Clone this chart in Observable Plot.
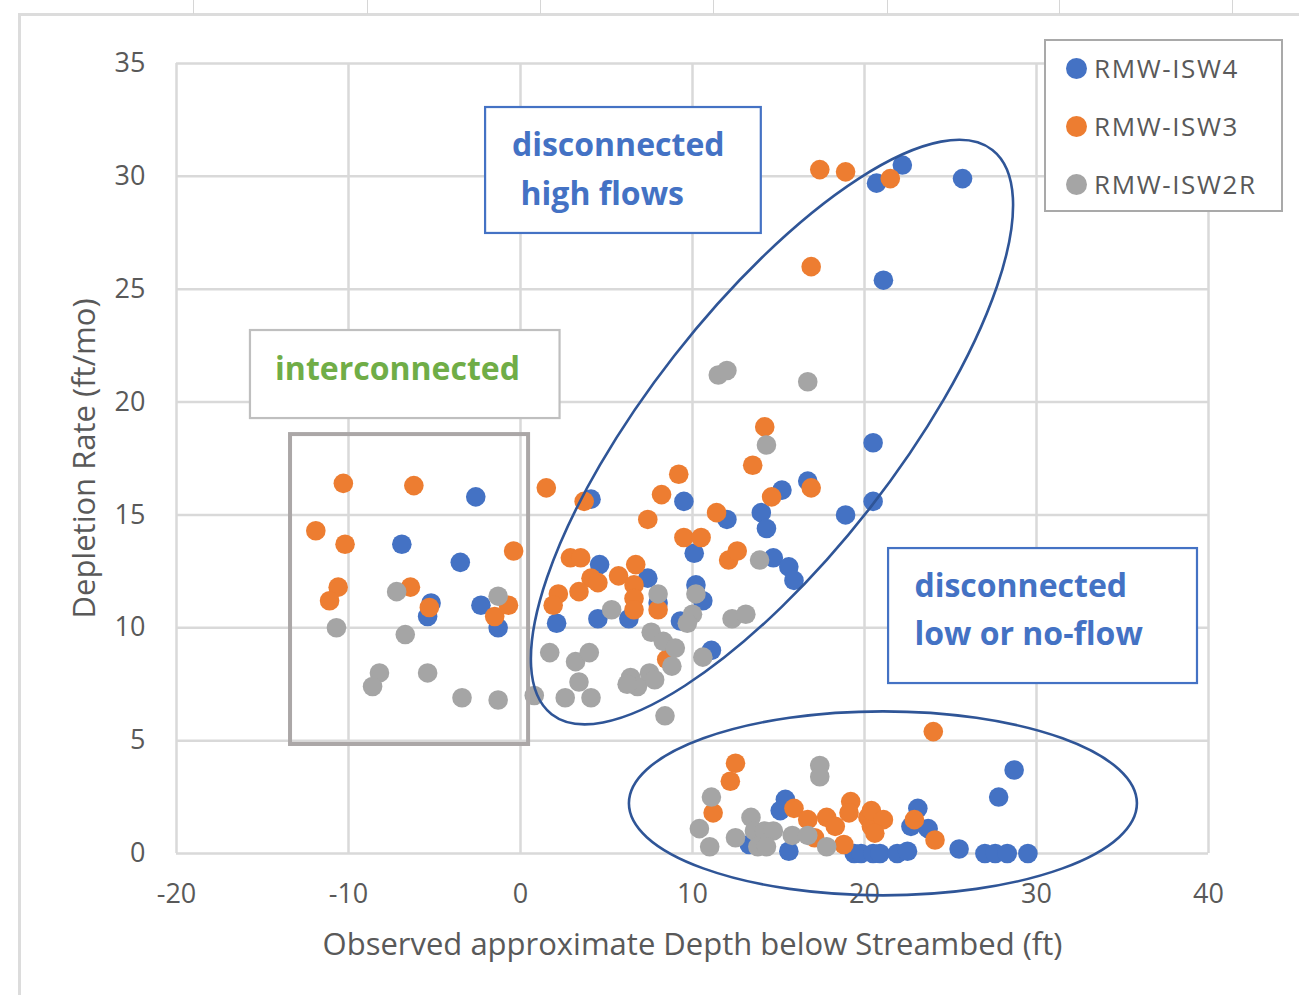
<!DOCTYPE html>
<html>
<head>
<meta charset="utf-8">
<script src="https://cdn.jsdelivr.net/npm/d3@7"></script>
<script src="https://cdn.jsdelivr.net/npm/@observablehq/plot@0.6"></script>
<style>
  html, body { margin: 0; padding: 0; background: #fff; }
  #wrap { position: relative; width: 1299px; height: 995px; overflow: hidden; font-family: "Open Sans", sans-serif; }
  #frameTop { position: absolute; left: 20px; top: 13px; width: 1279px; height: 0; border-top: 3px solid #dcdcdc; }
  #frameLeft { position: absolute; left: 18px; top: 13px; width: 0; height: 982px; border-left: 3px solid #dcdcdc; }
  .tick { position: absolute; top: 0; width: 1px; height: 14px; background: #d6d6d6; }
  #legend { position: absolute; left: 1044px; top: 39px; width: 235px; height: 169px; border: 2.5px solid #a9a9a9; background: #fff; }
  .li { position: absolute; left: 20px; height: 30px; display: flex; align-items: center; font-size: 26px; color: #595959; letter-spacing: 1.6px; }
  .sw { width: 21px; height: 21px; border-radius: 50%; margin-right: 7px; }
</style>
</head>
<body>
<div id="wrap"></div>
<script>
// ---- data ----
const seriesNames = ["RMW-ISW4", "RMW-ISW3", "RMW-ISW2R"];
const seriesColors = ["#4472C4", "#ED7D31", "#A5A5A5"];

const isw4 = [
  [-2.6,15.8],[-6.9,13.7],[-3.5,12.9],[-5.2,11.1],[-5.4,10.5],[-2.3,11.0],[-1.3,10.0],
  [4.1,15.7],[9.5,15.6],[16.7,16.5],[15.2,16.1],[12.0,14.8],[14.0,15.1],[14.3,14.4],[10.1,13.3],
  [14.7,13.1],[15.6,12.7],[15.9,12.1],[4.6,12.8],[2.1,10.2],[4.5,10.4],[7.4,12.2],[6.3,10.4],
  [8.0,11.1],[10.2,11.9],[10.6,11.2],[9.3,10.3],[11.1,9.0],
  [20.5,18.2],[20.5,15.6],[18.9,15.0],
  [20.7,29.7],[22.2,30.5],[25.7,29.9],[21.1,25.4],
  [13.3,0.4],[15.4,2.4],[15.1,1.9],[15.6,0.1],[19.4,0.0],[19.8,0.0],[20.5,0.0],[20.9,0.0],
  [21.9,0.0],[22.5,0.1],[28.7,3.7],[27.8,2.5],[23.1,2.0],[22.7,1.2],[23.7,1.1],[25.5,0.2],
  [27.0,0.0],[27.6,0.0],[28.3,0.0],[29.5,0.0]
];
const isw3 = [
  [-10.3,16.4],[-6.2,16.3],[-11.9,14.3],[-10.2,13.7],[-10.6,11.8],[-11.1,11.2],[-6.4,11.8],
  [-5.3,10.9],[-0.4,13.4],[-1.5,10.5],[-0.7,11.0],
  [1.5,16.2],[3.7,15.6],[9.2,16.8],[8.2,15.9],[7.4,14.8],[14.2,18.9],[13.5,17.2],[16.9,16.2],
  [14.6,15.8],[11.4,15.1],[9.5,14.0],[10.5,14.0],[12.1,13.0],[12.6,13.4],[2.9,13.1],[3.5,13.1],
  [4.1,12.2],[4.5,12.0],[3.4,11.6],[2.2,11.5],[1.9,11.0],[5.7,12.3],[6.7,12.8],[6.6,11.9],
  [6.6,11.3],[6.6,10.8],[8.0,10.8],[8.5,8.6],
  [17.4,30.3],[18.9,30.2],[21.5,29.9],[16.9,26.0],
  [12.5,4.0],[12.2,3.2],[11.2,1.8],[15.9,2.0],[16.7,1.5],[17.1,0.7],[17.8,1.6],[18.3,1.2],
  [18.8,0.4],[19.2,2.3],[19.1,1.8],[20.2,1.6],[20.4,1.2],[20.4,1.9],[21.1,1.5],[20.6,0.9],
  [22.9,1.5],[24.1,0.6],[24.0,5.4]
];
const isw2r = [
  [-7.2,11.6],[-10.7,10.0],[-6.7,9.7],[-8.2,8.0],[-8.6,7.4],[-5.4,8.0],[-3.4,6.9],[-1.3,6.8],
  [-1.3,11.4],[0.8,7.0],
  [14.3,18.1],[13.9,13.0],[5.3,10.8],[8.0,11.5],[10.2,11.5],[10.0,10.6],[9.7,10.2],[12.3,10.4],
  [13.1,10.6],[1.7,8.9],[3.2,8.5],[4.0,8.9],[3.4,7.6],[4.1,6.9],[2.6,6.9],[6.4,7.8],[6.8,7.4],
  [7.5,8.0],[7.8,7.7],[6.2,7.5],[7.6,9.8],[8.3,9.4],[9.0,9.1],[8.8,8.3],[10.6,8.7],[8.4,6.1],
  [16.7,20.9],[11.5,21.2],[12.0,21.4],
  [11.1,2.5],[10.4,1.1],[11.0,0.3],[12.5,0.7],[13.4,1.6],[13.6,1.0],[14.2,1.0],[14.7,1.0],
  [13.8,0.3],[14.3,0.3],[15.8,0.8],[16.7,0.8],[17.4,3.9],[17.4,3.4],[17.8,0.3]
];

const xTicks = [-20, -10, 0, 10, 20, 30, 40];
const yTicks = [0, 5, 10, 15, 20, 25, 30, 35];
const xLabel = "Observed approximate Depth below Streambed (ft)";
const yLabel = "Depletion Rate (ft/mo)";

// annotation regions (data coordinates)
const grayRegion = [{x1: -13.37, x2: 0.47, y1: 4.83, y2: 18.56}];
const textBoxes = [
  {x1: -15.7, x2: 2.3, y1: 19.27, y2: 23.17, stroke: "#BFBFBF"},
  {x1: -2.03, x2: 14.0, y1: 27.47, y2: 33.05, stroke: "#4472C4"},
  {x1: 21.4, x2: 39.36, y1: 7.53, y2: 13.51, stroke: "#4472C4"}
];
const centeredLabels = [
  {x: -7.15, y: 21.45, text: "interconnected", color: "#70AD47"}
];
const leftLabels = [
  {x: -0.5, y: 31.35, text: "disconnected", color: "#4472C4"},
  {x: 0.0, y: 29.2, text: "high flows", color: "#4472C4"},
  {x: 22.9, y: 11.8, text: "disconnected", color: "#4472C4"},
  {x: 22.9, y: 9.7, text: "low or no-flow", color: "#4472C4"}
];
// ellipses: centre in data coords, radii (px) and rotation (deg)
const ellipses = [
  {cx: 14.65, cy: 18.65, rx: 358, ry: 124, angle: -52},
  {cx: 21.1, cy: 2.2, rx: 254, ry: 92, angle: 0}
];

// ---- build table ----
const points = [];
[isw4, isw3, isw2r].forEach((arr, si) => arr.forEach(([x, y]) => points.push({x, y, s: seriesNames[si]})));

const plot = Plot.plot({
  width: 1299,
  height: 995,
  marginLeft: 176,
  marginRight: 91,
  marginTop: 63,
  marginBottom: 142,
  style: {fontFamily: "Open Sans, sans-serif", color: "#595959", background: "transparent"},
  x: {domain: [-20, 40], ticks: xTicks},
  y: {domain: [0, 35], ticks: yTicks},
  color: {domain: seriesNames, range: seriesColors},
  marks: [
    Plot.gridX(xTicks, {stroke: "#d9d9d9", strokeOpacity: 1, strokeWidth: 2.5}),
    Plot.gridY(yTicks, {stroke: "#d9d9d9", strokeOpacity: 1, strokeWidth: 2.5}),
    Plot.axisX(xTicks, {tickSize: 0, tickPadding: 30, fontSize: 27, label: null, fill: "#595959", tickFormat: d => String(d)}),
    Plot.axisY(yTicks, {tickSize: 0, tickPadding: 31, fontSize: 27, label: null, fill: "#595959", tickFormat: d => String(d)}),
    Plot.text([xLabel], {frameAnchor: "bottom", dy: 101, fontSize: 31, fill: "#595959", text: d => d}),
    Plot.text([yLabel], {frameAnchor: "left", dx: -91, rotate: -90, textAnchor: "middle", fontSize: 31, fill: "#595959", text: d => d}),
    Plot.dot(points, {x: "x", y: "y", fill: "s", r: 9.8, stroke: "none"}),
    Plot.rect(grayRegion, {x1: "x1", x2: "x2", y1: "y1", y2: "y2", fill: "none", stroke: "#ABA7A7", strokeWidth: 4}),
    Plot.rect(textBoxes, {x1: "x1", x2: "x2", y1: "y1", y2: "y2", fill: "white", stroke: "stroke", strokeWidth: 2.2}),
    Plot.text(centeredLabels, {x: "x", y: "y", text: "text", fill: "color", textAnchor: "middle", fontSize: 32, fontWeight: "bold"}),
    Plot.text(leftLabels, {x: "x", y: "y", text: "text", fill: "color", textAnchor: "start", fontSize: 32, fontWeight: "bold"})
  ]
});

// ellipses drawn on top using the plot's own scales
const sx = plot.scale("x"), sy = plot.scale("y");
const svg = d3.select(plot);
ellipses.forEach(e => {
  const px = sx.apply(e.cx), py = sy.apply(e.cy);
  svg.append("ellipse")
    .attr("cx", px).attr("cy", py).attr("rx", e.rx).attr("ry", e.ry)
    .attr("transform", `rotate(${e.angle} ${px} ${py})`)
    .attr("fill", "none").attr("stroke", "#2F5597").attr("stroke-width", 2.6);
});

const wrap = document.getElementById("wrap");
plot.style.position = "absolute";
plot.style.left = "0px";
plot.style.top = "0px";
wrap.appendChild(plot);

// outer sheet frame
const ft = document.createElement("div"); ft.id = "frameTop"; wrap.appendChild(ft);
const fl = document.createElement("div"); fl.id = "frameLeft"; wrap.appendChild(fl);
[193, 367, 540, 713, 887, 1059, 1232].forEach(x => {
  const t = document.createElement("div"); t.className = "tick"; t.style.left = x + "px"; wrap.appendChild(t);
});

// legend
const lg = document.createElement("div"); lg.id = "legend";
seriesNames.forEach((n, i) => {
  const it = document.createElement("div"); it.className = "li";
  it.style.top = (12 + i * 58) + "px";
  const sw = document.createElement("span"); sw.className = "sw"; sw.style.background = seriesColors[i];
  const tx = document.createElement("span"); tx.textContent = n;
  it.appendChild(sw); it.appendChild(tx); lg.appendChild(it);
});
wrap.appendChild(lg);
</script>
</body>
</html>
